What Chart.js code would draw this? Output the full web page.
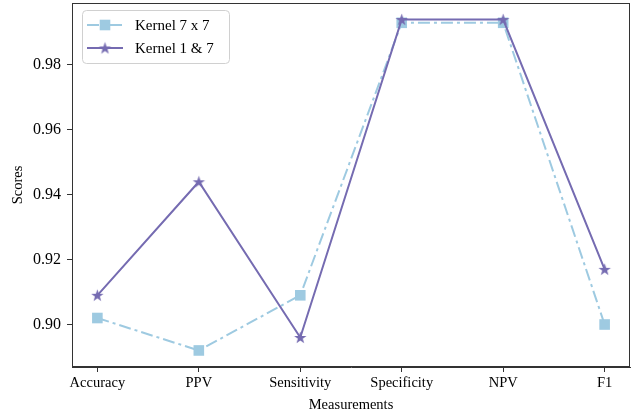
<!DOCTYPE html>
<html>
<head>
<meta charset="utf-8">
<script src="https://cdn.jsdelivr.net/npm/chart.js@4"></script>
<style>
  html, body { margin: 0; padding: 0; background: #fff; }
  #wrap { width: 640px; height: 416px; }
</style>
</head>
<body>
<div id="wrap"><canvas id="chart1"></canvas></div>
<script>
const measurements = ['Accuracy', 'PPV', 'Sensitivity', 'Specificity', 'NPV', 'F1'];
const kernel7x7 = [0.902, 0.892, 0.909, 0.993, 0.993, 0.900];
const kernel1and7 = [0.909, 0.944, 0.896, 0.994, 0.994, 0.917];
const yTicks = [0.90, 0.92, 0.94, 0.96, 0.98];

const blue = '#9ecae1';
const purple = '#756bb1';
const fontFamily = '"Liberation Serif", "DejaVu Serif", serif';
const axisColor = '#333';

function makeStar(outer, color) {
    const c = document.createElement('canvas');
    const s = Math.ceil(outer * 2 + 2);
    c.width = s; c.height = s;
    const ctx = c.getContext('2d');
    const inner = outer * 0.4;
    ctx.beginPath();
    for (let i = 0; i < 10; i++) {
        const r = i % 2 ? inner : outer;
        const a = -Math.PI / 2 + i * Math.PI / 5;
        const px = s / 2 + r * Math.cos(a);
        const py = s / 2 + 0.5 + r * Math.sin(a);
        i ? ctx.lineTo(px, py) : ctx.moveTo(px, py);
    }
    ctx.closePath();
    ctx.fillStyle = color;
    ctx.fill();
    return c;
}
const star = makeStar(6.5, purple);

// frame around the plot and matplotlib-like legend
const framePlugin = {
    id: 'frame',
    afterDraw(chart) {
        const { ctx, chartArea: a } = chart;
        ctx.save();
        ctx.strokeStyle = axisColor;
        ctx.lineWidth = 1;
        ctx.strokeRect(a.left + 0.5, a.top + 0.5, a.right - a.left - 1, a.bottom - a.top - 1);

        // legend
        const bx = 82, by = 10, bw = 147, bh = 53;
        ctx.beginPath();
        ctx.roundRect(bx + 0.5, by + 0.5, bw, bh, 4);
        ctx.fillStyle = 'rgba(255,255,255,0.8)';
        ctx.fill();
        ctx.strokeStyle = '#d0d0d0';
        ctx.stroke();

        const rows = [
            { label: 'Kernel 7 x 7', color: blue, dash: [12, 4, 3, 4], y: by + 15 },
            { label: 'Kernel 1 & 7', color: purple, dash: [], y: by + 38 }
        ];
        rows.forEach((r, i) => {
            ctx.beginPath();
            ctx.setLineDash(r.dash);
            ctx.strokeStyle = r.color;
            ctx.lineWidth = 2;
            ctx.moveTo(bx + 5, r.y);
            ctx.lineTo(bx + 41, r.y);
            ctx.stroke();
            ctx.setLineDash([]);
            if (i === 0) {
                ctx.fillStyle = blue;
                ctx.fillRect(bx + 23 - 5.3, r.y - 5.3, 10.6, 10.6);
            } else {
                ctx.drawImage(star, bx + 23 - star.width / 2, r.y - star.height / 2);
            }
            ctx.fillStyle = '#000';
            ctx.font = '15px ' + fontFamily;
            ctx.textBaseline = 'middle';
            ctx.fillText(r.label, bx + 53, r.y + 1);
        });
        ctx.restore();
    }
};

const data = {
    labels: measurements,
    datasets: [
        {
            label: 'Kernel 7 x 7',
            data: kernel7x7,
            borderColor: blue,
            backgroundColor: blue,
            borderWidth: 2,
            borderDash: [12, 4, 3, 4],
            pointStyle: 'rect',
            pointRadius: 7.5,
            pointBorderWidth: 0,
            order: 2
        },
        {
            label: 'Kernel 1 & 7',
            data: kernel1and7,
            borderColor: purple,
            backgroundColor: purple,
            borderWidth: 2,
            pointStyle: star,
            order: 1
        }
    ]
};

const options = {
    responsive: true,
    maintainAspectRatio: false,
    animation: false,
    layout: { autoPadding: false, padding: { top: 3, right: 10, left: 0, bottom: 0 } },
    plugins: { legend: { display: false }, tooltip: { enabled: false } },
    scales: {
        x: {
            offset: false,
            min: -0.25,
            max: 5.25,
            type: 'linear',
            afterBuildTicks: axis => { axis.ticks = measurements.map((m, i) => ({ value: i })); },
            afterFit: axis => { axis.height = 49; axis.paddingLeft = 0; axis.paddingRight = 0; },
            grid: { display: true, drawOnChartArea: false, drawTicks: true, tickLength: 5, color: axisColor },
            border: { display: true, color: axisColor },
            ticks: {
                color: '#000',
                font: { family: fontFamily, size: 14.5 },
                padding: 2,
                maxRotation: 0,
                autoSkip: false,
                callback: v => measurements[v]
            },
            title: {
                display: true,
                text: 'Measurements',
                color: '#000',
                font: { family: fontFamily, size: 14.5 },
                padding: { top: 0, bottom: 2 }
            }
        },
        y: {
            min: 0.8869,
            max: 0.9991,
            afterBuildTicks: axis => { axis.ticks = yTicks.map(v => ({ value: v })); },
            afterFit: axis => { axis.width = 72; axis.paddingTop = 0; axis.paddingBottom = 0; },
            grid: { display: true, drawOnChartArea: false, drawTicks: true, tickLength: 5, color: axisColor },
            border: { display: true, color: axisColor },
            ticks: {
                color: '#000',
                font: { family: fontFamily, size: 16 },
                padding: 6,
                callback: v => v.toFixed(2)
            },
            title: {
                display: true,
                text: 'Scores',
                color: '#000',
                font: { family: fontFamily, size: 14.5 },
                padding: { top: 9, bottom: 0 }
            }
        }
    }
};

// x data as indices for the linear x scale
data.datasets.forEach(ds => { ds.data = ds.data.map((v, i) => ({ x: i, y: v })); });

new Chart('chart1', { type: 'line', data, options, plugins: [framePlugin] });
</script>
</body>
</html>
